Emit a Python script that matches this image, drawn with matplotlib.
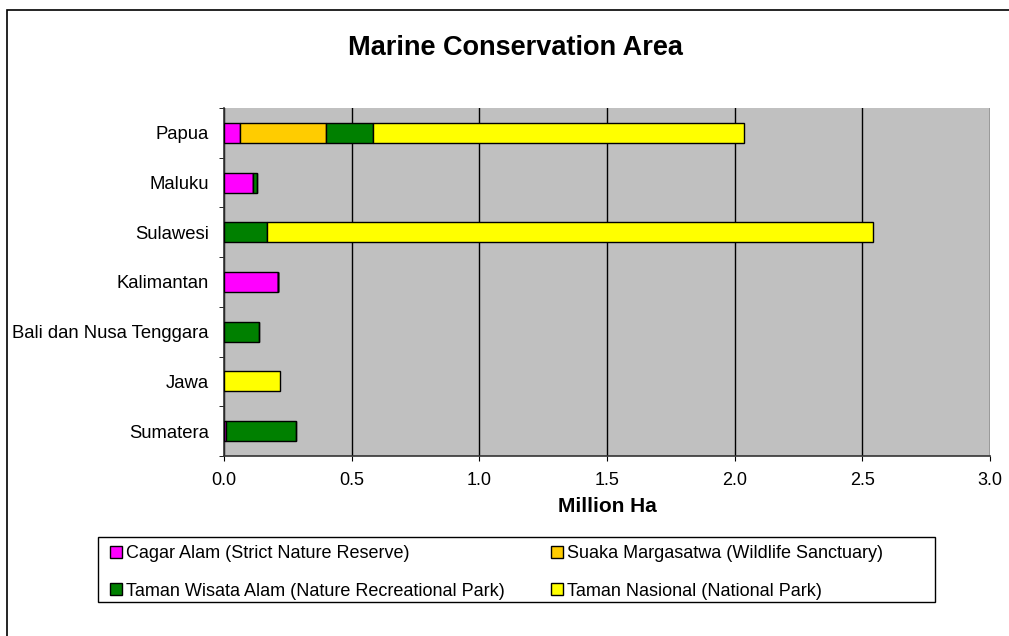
import matplotlib
matplotlib.use("Agg")

import numpy as np
import matplotlib.pyplot as plt
from matplotlib.patches import Rectangle

plt.rcParams["font.family"] = ["Liberation Sans", "DejaVu Sans"]

regions = ["Sumatera", "Jawa", "Bali dan Nusa Tenggara", "Kalimantan",
           "Sulawesi", "Maluku", "Papua"]

# million ha
cagar_alam = [0.009, 0.0, 0.0, 0.210, 0.0, 0.115, 0.061]
suaka_margasatwa = [0.0, 0.0, 0.0, 0.0, 0.0, 0.0, 0.337]
taman_wisata = [0.273, 0.0, 0.136, 0.0, 0.168, 0.015, 0.184]
taman_nasional = [0.0, 0.221, 0.0, 0.0, 2.374, 0.0, 1.455]

series = [
    ("Cagar Alam (Strict Nature Reserve)", cagar_alam, "#FF00FF"),
    ("Suaka Margasatwa (Wildlife Sanctuary)", suaka_margasatwa, "#FFCC00"),
    ("Taman Wisata Alam (Nature Recreational Park)", taman_wisata, "#008000"),
    ("Taman Nasional (National Park)", taman_nasional, "#FFFF00"),
]

W, H = 1009, 636
fig = plt.figure(figsize=(W / 100, H / 100), dpi=100)
ax = fig.add_axes([224 / W, 1 - 456 / H, (990 - 224) / W, (456 - 108) / H])
ax.set_facecolor("#C0C0C0")

y = np.arange(len(regions))
left = np.zeros(len(regions))
handles = {}
for name, vals, col in series:
    vals = np.array(vals)
    h = ax.barh(y, vals, left=left, height=0.4, color=col, edgecolor="black",
                linewidth=1, zorder=3, label=name)
    handles[name] = h
    left += vals

ax.set_xlim(0, 3.0)
ax.set_ylim(-0.5, len(regions) - 0.5)
xt = np.arange(0, 3.01, 0.5)
ax.set_xticks(xt)
ax.set_xticklabels([f"{v:.1f}" for v in xt], fontsize=13)
ax.set_yticks(y)
ax.set_yticklabels(regions, fontsize=13.3)
ax.set_yticks(np.arange(-0.5, len(regions), 1.0), minor=True)
ax.tick_params(axis="y", which="major", length=0, pad=11)
ax.tick_params(axis="y", which="minor", length=3.6, direction="out")
ax.tick_params(axis="x", length=3.6, direction="out", pad=8)
ax.grid(axis="x", color="black", linewidth=1, zorder=1)
ax.set_axisbelow(True)
for s in ["top", "right"]:
    ax.spines[s].set_visible(False)
for s in ["left", "bottom"]:
    ax.spines[s].set_color("#333333")
    ax.spines[s].set_linewidth(1.2)

ax.set_xlabel("Million Ha", fontsize=15, fontweight="bold", labelpad=6)
fig.text(515 / W, 1 - 48 / H, "Marine Conservation Area", fontsize=19.5,
         fontweight="bold", ha="center", va="center")

# legend frame drawn separately, entries placed inside
fig.patches.append(Rectangle((98 / W, 1 - 602 / H), (935 - 98) / W, 65 / H,
                             transform=fig.transFigure, fill=False,
                             edgecolor="black", linewidth=1, figure=fig))
order = [series[0][0], series[2][0], series[1][0], series[3][0]]
leg = fig.legend([handles[n] for n in order], order, ncol=2,
                 loc="upper left", bbox_to_anchor=(110 / W, 1 - 545 / H),
                 fontsize=13, frameon=False, handlelength=0.65,
                 handleheight=0.65, handletextpad=0.25, borderaxespad=0,
                 borderpad=0, labelspacing=1.15, columnspacing=2.55)

fig.patches.append(Rectangle((7 / W, -0.1), 2, 1 - 10 / H + 0.1,
                             transform=fig.transFigure, fill=False,
                             edgecolor="black", linewidth=1.2, figure=fig))

fig.savefig("out.png", dpi=100)
